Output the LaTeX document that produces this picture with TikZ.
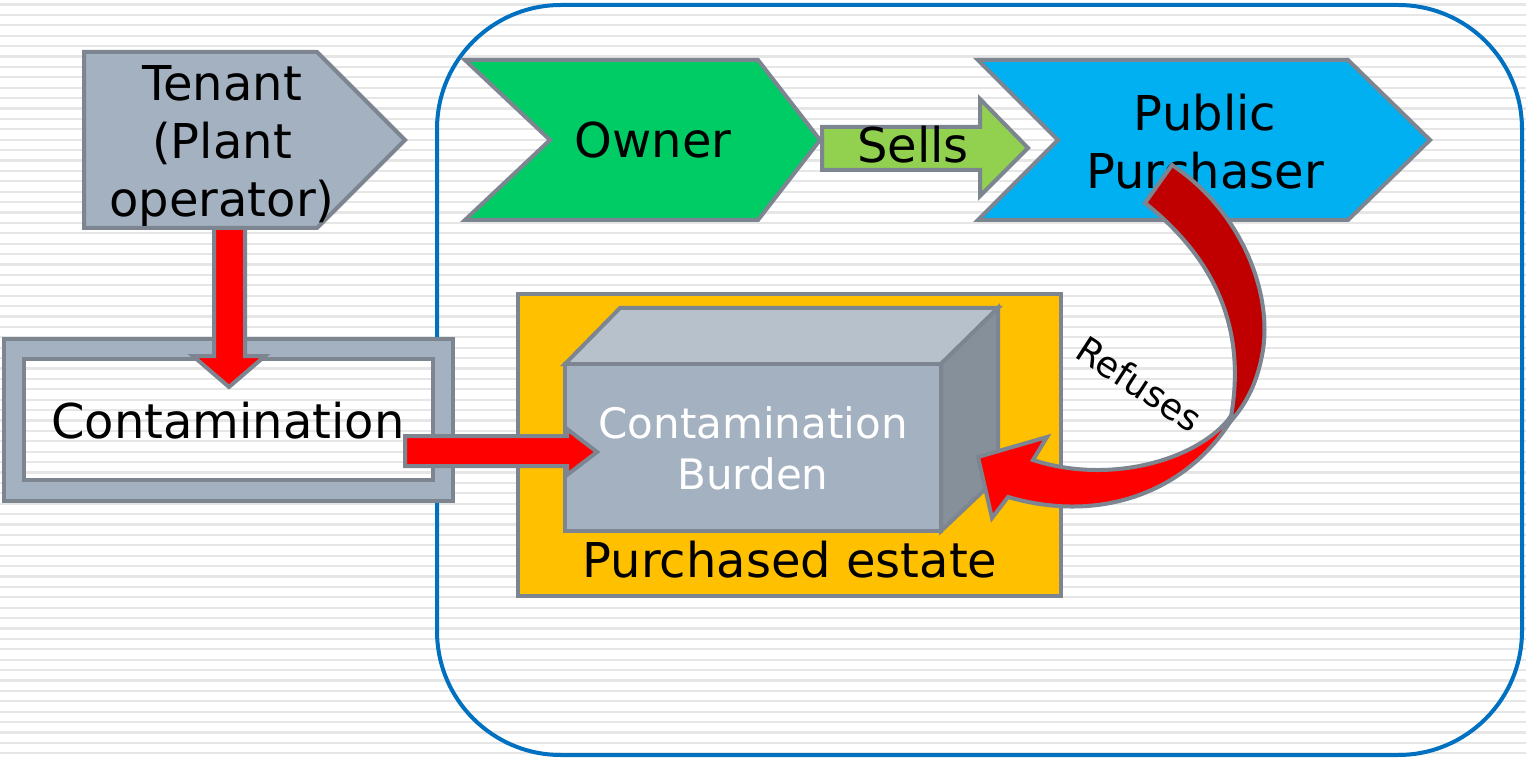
\documentclass[tikz,border=0pt]{standalone}
\usepackage{fontspec}
\setmainfont{DejaVu Sans}

\definecolor{shapegray}{HTML}{A3B1C1}
\definecolor{edgegray}{HTML}{7C8590}
\definecolor{topgray}{HTML}{B7C1CC}
\definecolor{sidegray}{HTML}{86909B}
\definecolor{ownergreen}{HTML}{00CC66}
\definecolor{sellsgreen}{HTML}{92D050}
\definecolor{buyerblue}{HTML}{00B0F0}
\definecolor{estateyellow}{HTML}{FFC000}
\definecolor{frameblue}{HTML}{0070C0}
\definecolor{backred}{HTML}{C00000}
\definecolor{stripegray}{HTML}{E6E6E6}

\tikzset{
  outlined/.style={draw=edgegray, line width=2pt, line join=miter},
  bodytext/.style={font=\fontsize{24}{29}\selectfont, text=black, inner sep=0pt},
  cubetext/.style={font=\fontsize{21}{25.5}\selectfont, text=white, inner sep=0pt},
  stripe/.style={draw=stripegray, line width=1.1pt},
}

\begin{document}
\begin{tikzpicture}[x=0.5pt,y=-0.5pt]
\useasboundingbox (0,0) rectangle (1526,759);
% Drawing background stripes
\fill[white] (0,0) rectangle (1526,759);
\foreach \k in {0,...,72}
  \draw[stripe] (0,{4.5+10.4*\k}) -- (1526,{4.5+10.4*\k});
% Frame round the sale
\draw[draw=frameblue, line width=2pt, rounded corners=62pt] (437,5) rectangle (1522,755);
% Contamination frame
\draw[outlined, fill=shapegray, even odd rule] (4,339) rectangle (453,501) (24,359) rectangle (433,480);
\node[bodytext, anchor=base] (contam) at (228,438) {Contamination};
% Tenant down to contamination
\draw[outlined, fill=red] (214,215) -- (245,215) -- (245,356) -- (265,356) -- (229,387) -- (193,356) -- (214,356) -- cycle;
% Tenant
\draw[outlined, fill=shapegray] (84,52) -- (317,52) -- (405,140) -- (317,228) -- (84,228) -- cycle;
\node[bodytext, align=center] (tenant) at (222,146) {Tenant\\(Plant\\operator)};
% Owner
\draw[outlined, fill=ownergreen] (465,60) -- (758,60) -- (820,140) -- (758,220) -- (465,220) -- (550,140) -- cycle;
\node[bodytext, anchor=base] (owner) at (653,158) {Owner};
% Sells
\draw[outlined, fill=sellsgreen] (822,127) -- (980,127) -- (980,99) -- (1028,148) -- (980,196) -- (980,170) -- (822,170) -- cycle;
\node[bodytext, anchor=base] (sells) at (913,163) {Sells};
% Public purchaser
\draw[outlined, fill=buyerblue] (978,60) -- (1348,60) -- (1430,140) -- (1348,220) -- (978,220) -- (1058,140) -- cycle;
\node[bodytext, align=center] (buyer) at (1205,142) {Public\\Purchaser};
% Purchased estate
\draw[outlined, fill=estateyellow] (518,294) rectangle (1061,596);
\node[bodytext, anchor=base] (estate) at (790,577) {Purchased estate};
% Burden box: top, side, front
\draw[outlined, fill=topgray] (565,364) -- (620,308) -- (998,308) -- (941,364) -- cycle;
\draw[outlined, fill=sidegray] (941,364) -- (998,308) -- (998,477) -- (941,531) -- cycle;
\draw[outlined, fill=shapegray] (565,364) rectangle (941,531);
\node[cubetext, align=center] (burden) at (753,448) {Contamination\\Burden};
% Contamination into burden
\draw[outlined, fill=red] (405,436) -- (567,436) -- (567,429) -- (597,452) -- (567,475) -- (567,466) -- (405,466) -- cycle;
% Refuses arrow, front then back
\draw[outlined, fill=red] (1242,400) .. controls (1205,480) and (1115,528) .. (1008,497) -- (992,518) -- (978,457) -- (1047,437) -- (1033,460) .. controls (1110,485) and (1195,460) .. (1228,420) -- cycle;
\draw[outlined, fill=backred] (1145,203) -- (1172,165) .. controls (1240,210) and (1272,290) .. (1263,350) .. controls (1258,380) and (1248,402) .. (1230,422) .. controls (1246,340) and (1224,266) .. (1145,203) -- cycle;
\node[font=\fontsize{18}{22}\selectfont, inner sep=0pt, rotate=-33, anchor=base] (refuses) at (1132,395) {Refuses};
\end{tikzpicture}
\end{document}
